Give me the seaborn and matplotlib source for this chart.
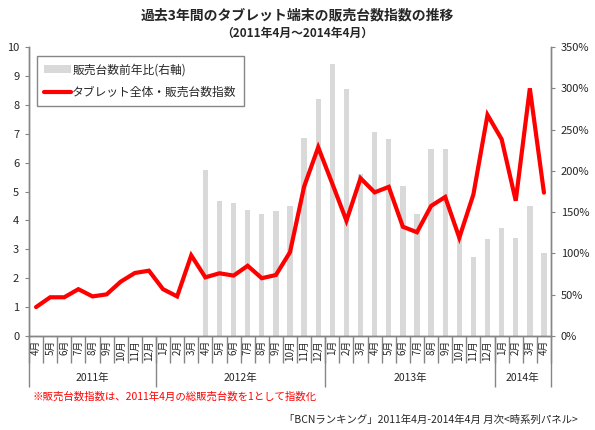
import numpy as np
import pandas as pd
import matplotlib
matplotlib.use("Agg")
import matplotlib.pyplot as plt
from matplotlib.patches import Patch
from matplotlib.lines import Line2D
import seaborn as sns

sns.set_style("white")
plt.rcParams['font.family'] = ['Noto Sans CJK JP', 'DejaVu Sans']

years = ["2011年", "2012年", "2013年", "2014年"]
months_per_year = [9, 12, 12, 4]
month_labels = (["4月", "5月", "6月", "7月", "8月", "9月", "10月", "11月", "12月"]
                + [f"{m}月" for m in range(1, 13)]
                + [f"{m}月" for m in range(1, 13)]
                + ["1月", "2月", "3月", "4月"])

# タブレット全体・販売台数指数 (left axis)
sales_index = [1.00, 1.34, 1.34, 1.62, 1.37, 1.44, 1.88, 2.18, 2.26,
               1.62, 1.37, 2.79, 2.03, 2.17, 2.09, 2.43, 2.00, 2.11, 2.90, 5.17, 6.53,
               5.27, 3.99, 5.46, 4.97, 5.16, 3.78, 3.59, 4.50, 4.81, 3.40, 4.90, 7.65,
               6.81, 4.68, 8.57, 4.96]

# 販売台数前年比 (right axis, %)
yoy_pct = [np.nan] * 12 + [201, 163, 161, 152, 148, 151, 158, 240, 287,
                           329, 299, 196, 247, 238, 182, 148, 226, 226, 121, 96, 117,
                           131, 119, 157, 100]

left_ticks = list(range(0, 11))
right_ticks = list(range(0, 351, 50))

title = "過去3年間のタブレット端末の販売台数指数の推移"
subtitle = "（2011年4月～2014年4月）"
legend_labels = ["販売台数前年比(右軸)", "タブレット全体・販売台数指数"]
note = "※販売台数指数は、2011年4月の総販売台数を1として指数化"
source = "「BCNランキング」2011年4月-2014年4月 月次<時系列パネル>"

n = len(month_labels)
df = pd.DataFrame({"idx": np.arange(n), "month": month_labels,
                   "index": sales_index, "yoy": yoy_pct})

GRAY = "#868686"
BAR = "#D9D9D9"
RED = "#FF0000"

fig = plt.figure(figsize=(5.95, 4.30), dpi=100)
ax = fig.add_axes([29/595, (430-336)/430, (551-29)/595, (336-47)/430])
ax2 = ax.twinx()

bars = df.dropna(subset=["yoy"])
sns.barplot(data=bars, x="idx", y="yoy", native_scale=True, color=BAR,
            width=0.38, ax=ax2, saturation=1, edgecolor="none", linewidth=0)
sns.lineplot(data=df, x="idx", y="index", color=RED, linewidth=3.0, ax=ax,
             solid_joinstyle="miter")

ax.set_zorder(ax2.get_zorder() + 1)
ax.patch.set_visible(False)

ax.set_xlim(-0.5, n - 0.5)
ax.set_ylim(0, 10)
ax2.set_ylim(0, 350)
ax.set_yticks(left_ticks)
ax.set_yticklabels([str(v) for v in left_ticks])
ax2.set_yticks(right_ticks)
ax2.set_yticklabels([f"{v}%" for v in right_ticks])
ax.set_xlabel("")
ax.set_ylabel("")
ax2.set_xlabel("")
ax2.set_ylabel("")

for a in (ax, ax2):
    a.spines["top"].set_visible(False)
    for s in ("left", "right", "bottom"):
        a.spines[s].set_color(GRAY)
        a.spines[s].set_linewidth(1.0)
    a.grid(False)

ax.tick_params(axis="y", direction="out", length=3, color=GRAY, labelsize=8,
               pad=4, left=True)
ax2.tick_params(axis="y", direction="out", length=3, color=GRAY, labelsize=8,
                pad=4, right=True)

# month labels at centres, separators at boundaries
ax.set_xticks(np.arange(n))
ax.set_xticklabels(month_labels, rotation=90, fontsize=7)
ax.tick_params(axis="x", which="major", length=0, pad=3, bottom=True)
ax.set_xticks(np.arange(-0.5, n, 1.0), minor=True)
ax.tick_params(axis="x", which="minor", length=19.5, color=GRAY, width=1.0,
               direction="out", bottom=True)
ax2.tick_params(axis="x", which="both", bottom=False, labelbottom=False)

# year separators
bounds = np.concatenate([[0], np.cumsum(months_per_year)]) - 0.5
sec = ax.secondary_xaxis("bottom")
sec.set_xticks(bounds)
sec.tick_params(axis="x", length=37, color=GRAY, width=1.0, labelbottom=False,
                direction="out")
sec.spines["bottom"].set_color(GRAY)
for s in ("left", "right", "top"):
    if s in sec.spines:
        sec.spines[s].set_visible(False)

for i, y in enumerate(years):
    xc = (bounds[i] + bounds[i + 1]) / 2
    ax.text(xc, -0.145, y, transform=ax.get_xaxis_transform(), ha="center",
            va="center", fontsize=7.5)

handles = [Patch(facecolor=BAR, edgecolor="none"),
           Line2D([0], [0], color=RED, linewidth=3.0)]
leg = ax.legend(handles, legend_labels, loc="upper left",
                bbox_to_anchor=(0.0153, 0.969), borderaxespad=0, fontsize=8.5,
                frameon=True, fancybox=False, edgecolor=GRAY, framealpha=1,
                handlelength=2.3, handletextpad=0.1, labelspacing=0.85,
                borderpad=0.6)
leg.get_frame().set_linewidth(1.0)

fig.text(297/595, 1 - 15/430, title, ha="center", va="center", fontsize=10,
         fontweight="bold")
fig.text(297/595, 1 - 33/430, subtitle, ha="center", va="center", fontsize=8.5,
         fontweight="bold")
fig.text(32/595, 1 - 397/430, note, ha="left", va="center", fontsize=7.5,
         color=RED)
fig.text(578/595, 1 - 420/430, source, ha="right", va="center", fontsize=7.5)

fig.savefig("out.png", dpi=100, facecolor="white")
